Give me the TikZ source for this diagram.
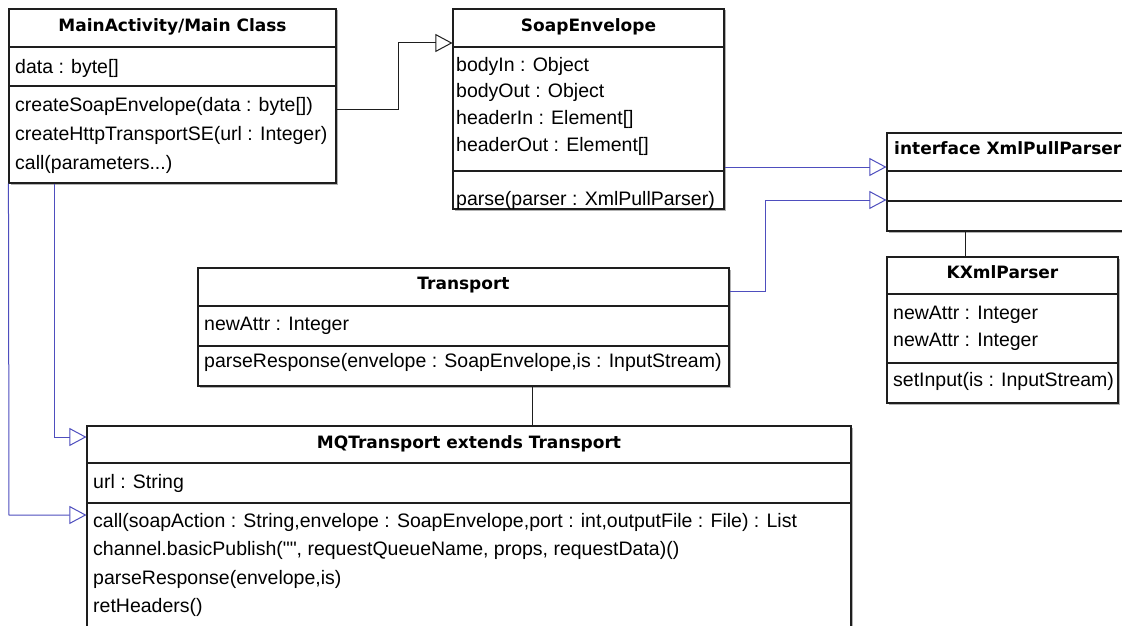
\documentclass[tikz,border=0pt]{standalone}
\usepackage{fontspec}
\setmainfont{Liberation Sans}
\newfontfamily\bodyfont{Liberation Sans}
\newfontfamily\hdfont{DejaVu Sans}
\usetikzlibrary{arrows.meta,shadows}
\definecolor{lnblue}{RGB}{78,78,190}
\definecolor{boxline}{RGB}{30,30,30}
\tikzset{
 classbox/.style={draw=boxline, line width=1.1pt, fill=white, inner sep=0pt,
   drop shadow={shadow xshift=1.5pt, shadow yshift=-1.5pt, fill=black, opacity=0.3}},
 divider/.style={draw=boxline, line width=1.1pt},
 hd/.style={anchor=base, inner sep=0pt, font=\hdfont\bfseries\fontsize{17}{20}\selectfont},
 hdw/.style={anchor=base west, inner sep=0pt, font=\hdfont\bfseries\fontsize{17}{20}\selectfont},
 txt/.style={anchor=base west, inner sep=0pt, font=\bodyfont\fontsize{19.5}{24}\selectfont},
 inh/.style={-{Triangle[open, length=17pt, width=18pt]}, line width=1pt, draw=boxline},
 blueinh/.style={-{Triangle[open, length=17pt, width=18pt]}, line width=1pt, draw=lnblue},
 plain/.style={line width=1pt, draw=boxline},
}
\begin{document}
\begin{tikzpicture}[x=1pt,y=-1pt]
\clip (0,0) rectangle (1122,626);
\fill[white] (0,0) rectangle (1122,626);

% ---------- MainActivity ----------
\node[classbox, minimum width=327pt, minimum height=174pt] (main) at (172.5,96) {};
\draw[divider] (main.west |- 0,47) -- (main.east |- 0,47);
\draw[divider] (main.west |- 0,86) -- (main.east |- 0,86);
\node[hd] (mainH) at (172.5,32) {MainActivity/Main Class};
\node[txt] (mainA1) at (15,74) {data : byte[]};
\node[txt] (mainM1) at (15,111) {createSoapEnvelope(data : byte[])};
\node[txt] (mainM2) at (15,140) {createHttpTransportSE(url : Integer)};
\node[txt] (mainM3) at (15,169) {call(parameters...)};

% ---------- SoapEnvelope ----------
\node[classbox, minimum width=271pt, minimum height=200pt] (soap) at (588.5,109) {};
\draw[divider] (soap.west |- 0,47) -- (soap.east |- 0,47);
\draw[divider] (soap.west |- 0,171) -- (soap.east |- 0,171);
\node[hd] (soapH) at (588.5,32) {SoapEnvelope};
\node[txt] (soapA1) at (456,71) {bodyIn : Object};
\node[txt] (soapA2) at (456,98) {bodyOut : Object};
\node[txt] (soapA3) at (456,124) {headerIn : Element[]};
\node[txt] (soapA4) at (456,151) {headerOut : Element[]};
\node[txt] (soapM1) at (456,205) {parse(parser : XmlPullParser)};

% ---------- interface XmlPullParser ----------
\node[classbox, minimum width=253pt, minimum height=98pt] (iface) at (1013.5,182) {};
\draw[divider] (iface.west |- 0,171) -- (iface.east |- 0,171);
\draw[divider] (iface.west |- 0,201) -- (iface.east |- 0,201);
\node[hdw] (ifaceH) at (894,154) {interface XmlPullParser};

% ---------- KXmlParser ----------
\node[classbox, minimum width=231pt, minimum height=146pt] (kxml) at (1002.5,330) {};
\draw[divider] (kxml.west |- 0,294) -- (kxml.east |- 0,294);
\draw[divider] (kxml.west |- 0,363) -- (kxml.east |- 0,363);
\node[hd] (kxmlH) at (1002.5,278) {KXmlParser};
\node[txt] (kxmlA1) at (893,319) {newAttr : Integer};
\node[txt] (kxmlA2) at (893,346) {newAttr : Integer};
\node[txt] (kxmlM1) at (893,386) {setInput(is : InputStream)};

% ---------- Transport ----------
\node[classbox, minimum width=531pt, minimum height=118pt] (transport) at (463.5,327) {};
\draw[divider] (transport.west |- 0,306) -- (transport.east |- 0,306);
\draw[divider] (transport.west |- 0,346) -- (transport.east |- 0,346);
\node[hd] (transportH) at (463.5,289) {Transport};
\node[txt] (transportA1) at (204,330) {newAttr : Integer};
\node[txt] (transportM1) at (204,367) {parseResponse(envelope : SoapEnvelope,is : InputStream)};

% ---------- MQTransport ----------
\node[classbox, minimum width=764pt, minimum height=234pt] (mq) at (469,543) {};
\draw[divider] (mq.west |- 0,463) -- (mq.east |- 0,463);
\draw[divider] (mq.west |- 0,503) -- (mq.east |- 0,503);
\node[hd] (mqH) at (469,448) {MQTransport extends Transport};
\node[txt] (mqA1) at (93,488) {url : String};
\node[txt] (mqM1) at (93,527) {call(soapAction : String,envelope : SoapEnvelope,port : int,outputFile : File) : List};
\node[txt] (mqM2) at (93,555) {channel.basicPublish("", requestQueueName, props, requestData)()};
\node[txt] (mqM3) at (93,584) {parseResponse(envelope,is)};
\node[txt] (mqM4) at (93,612) {retHeaders()};

% ---------- connectors ----------
\draw[inh] (main.east |- 0,109) -- (398,109) -- (398,43) -- (soap.west |- 0,43);
\draw[blueinh] (soap.east |- 0,167) -- (iface.west |- 0,167);
\draw[blueinh] (transport.east |- 0,291) -- (765,291) -- (765,200) -- (iface.west |- 0,200);
\draw[blueinh] (main.south west -| 54,0) -- (54,437) -- (mq.west |- 0,437);
\draw[blueinh] (main.south west) -- (9,515) -- (mq.west |- 0,515);
\draw[plain] (transport.south -| 532,0) -- (mq.north -| 532,0);
\draw[plain] (iface.south -| 965,0) -- (kxml.north -| 965,0);
\end{tikzpicture}
\end{document}
